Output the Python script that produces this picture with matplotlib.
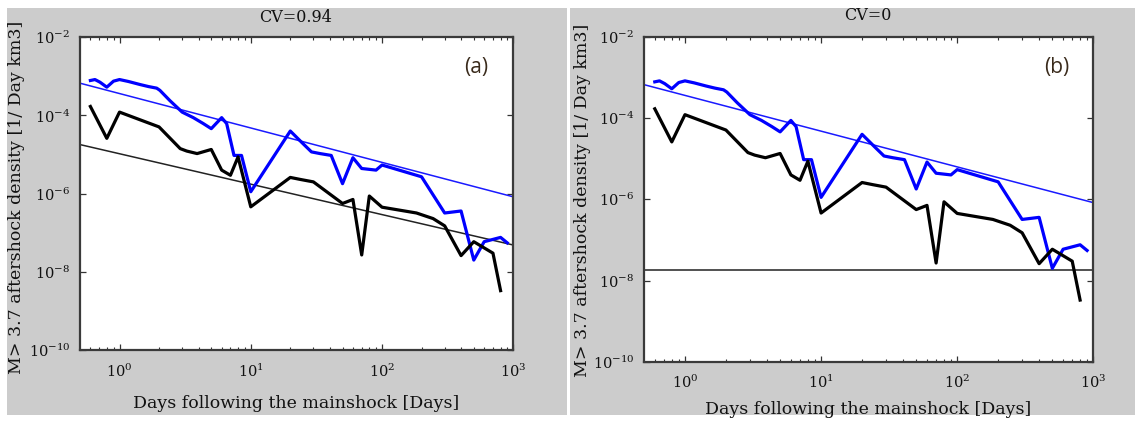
import matplotlib
matplotlib.use('Agg')
import matplotlib.pyplot as plt
from matplotlib.patches import Rectangle
from matplotlib.ticker import FixedLocator, NullFormatter, LogFormatterSciNotation

W, H = 1135, 421
plt.rcParams['font.family'] = ['DejaVu Serif']
plt.rcParams['mathtext.fontset'] = 'dejavuserif'

# ---- data ----
blue_days = [0.6, 0.65, 0.71, 0.8, 0.9, 1.0, 1.17, 1.43, 1.66, 1.92, 2.03, 2.42, 3.0,
             3.65, 4.35, 5.0, 6.0, 6.55, 7.45, 8.5, 10, 20, 25, 29, 33.7, 41, 50, 60,
             70, 90, 100, 200, 300, 400, 500, 600, 800, 900]
blue_density = [7.85e-4, 8.3e-4, 7.1e-4, 5.3e-4, 7.55e-4, 8.3e-4, 7.4e-4, 6.2e-4, 5.5e-4,
                5.0e-4, 4.4e-4, 2.4e-4, 1.22e-4, 8.8e-5, 6.2e-5, 4.6e-5, 8.8e-5, 6.2e-5,
                9.5e-6, 9.5e-6, 1.12e-6, 4.0e-5, 1.9e-5, 1.17e-5, 1.06e-5, 9.5e-6, 1.8e-6,
                8.3e-6, 4.4e-6, 4.0e-6, 5.4e-6, 2.7e-6, 3.2e-7, 3.6e-7, 2.0e-8, 5.9e-8,
                7.6e-8, 5.5e-8]
black_days = [0.6, 0.8, 1.0, 2.0, 2.9, 3.25, 3.9, 5.0, 6.0, 7.0, 8.0, 10, 20, 24, 30, 50,
              60, 70, 80, 100, 183, 245, 300, 400, 500, 700, 800]
black_density = [1.7e-4, 2.6e-5, 1.22e-4, 5.1e-5, 1.42e-5, 1.23e-5, 1.06e-5, 1.35e-5, 4.0e-6,
                 2.95e-6, 8.7e-6, 4.6e-7, 2.6e-6, 2.3e-6, 2.0e-6, 5.6e-7, 7.1e-7, 2.7e-8,
                 8.7e-7, 4.5e-7, 3.2e-7, 2.3e-7, 1.5e-7, 2.6e-8, 5.9e-8, 3.0e-8, 3.3e-9]
fit_days = [0.5, 1000]
blue_fit = [6.7e-4, 8.3e-7]
black_fit_a = [1.8e-5, 4.85e-8]
black_fit_b = [1.84e-8, 1.84e-8]
titles = ['CV=0.94', 'CV=0']
panel_tags = ['(a)', '(b)']
xlabel_text = 'Days following the mainshock [Days]'
ylabel_text = 'M> 3.7 aftershock density [1/ Day km3]'
ytick_vals = [1e-10, 1e-8, 1e-6, 1e-4, 1e-2]
xtick_vals = [1, 10, 100, 1000]
xlim = (0.5, 1000)
ylim = (1e-10, 1e-2)

fig = plt.figure(figsize=(W / 100, H / 100), dpi=100, facecolor='white')


def box(x0, y0, x1, y1):
    return [x0 / W, 1 - y1 / H, (x1 - x0) / W, (y1 - y0) / H]


GRAY = '#cccccc'
for (x0, x1) in [(7, 567), (570, 1135)]:
    fig.patches.append(Rectangle((x0 / W, 1 - 415 / H), (x1 - x0) / W, (415 - 8) / H,
                                 transform=fig.transFigure, facecolor=GRAY,
                                 edgecolor='none', zorder=-10))

panels = [
    dict(rect=(80, 37.3, 513.3, 350), black_fit=black_fit_a, ylab=(17, 197), xlab=(296, 403),
         title=(296, 17), tag=(476, 68)),
    dict(rect=(644, 37, 1093.3, 361.7), black_fit=black_fit_b, ylab=(582, 200), xlab=(868, 410),
         title=(868, 16), tag=(1057, 68)),
]
minor_x = [m * 10 ** e for e in range(-1, 3) for m in range(2, 10)]
minor_x = [v for v in minor_x if xlim[0] < v < xlim[1]]

for i, p in enumerate(panels):
    ax = fig.add_axes(box(*p['rect']))
    ax.set_facecolor('white')
    ax.set_xscale('log')
    ax.set_yscale('log')
    ax.plot(fit_days, blue_fit, color='#1a1aff', lw=1.1, zorder=2)
    ax.plot(fit_days, p['black_fit'], color='#222222', lw=1.1, zorder=2)
    ax.plot(blue_days, blue_density, color='#0000ff', lw=2.3, zorder=3)
    ax.plot(black_days, black_density, color='black', lw=2.3, zorder=4)
    ax.set_xlim(*xlim)
    ax.set_ylim(*ylim)
    ax.xaxis.set_major_locator(FixedLocator(xtick_vals))
    ax.xaxis.set_minor_locator(FixedLocator(minor_x))
    ax.xaxis.set_minor_formatter(NullFormatter())
    ax.yaxis.set_major_locator(FixedLocator(ytick_vals))
    ax.yaxis.set_minor_locator(FixedLocator([]))
    ax.xaxis.set_major_formatter(LogFormatterSciNotation())
    ax.yaxis.set_major_formatter(LogFormatterSciNotation())
    ax.tick_params(which='both', direction='in', top=True, right=True, color='#333333',
                   labelsize=10.5, labelcolor='#111111')
    ax.tick_params(which='major', length=4, width=0.9)
    ax.tick_params(axis='y', which='major', pad=7)
    ax.tick_params(axis='x', which='major', pad=9)
    ax.tick_params(which='minor', length=2.5, width=0.8)
    for s in ax.spines.values():
        s.set_color('#3a3a3a')
        s.set_linewidth(1.6)
    fig.text(p['ylab'][0] / W, 1 - p['ylab'][1] / H, ylabel_text, rotation=90,
             ha='center', va='center', fontsize=12.5, color='#111111')
    fig.text(p['xlab'][0] / W, 1 - p['xlab'][1] / H, xlabel_text,
             ha='center', va='center', fontsize=12.5, color='#111111')
    fig.text(p['title'][0] / W, 1 - p['title'][1] / H, titles[i],
             ha='center', va='center', fontsize=11.5, color='#111111')
    fig.text(p['tag'][0] / W, 1 - p['tag'][1] / H, panel_tags[i], family=['Open Sans', 'DejaVu Sans'],
             ha='center', va='center', fontsize=15, color='#3a2b1c')

fig.savefig('out.png', dpi=100, facecolor='white')
